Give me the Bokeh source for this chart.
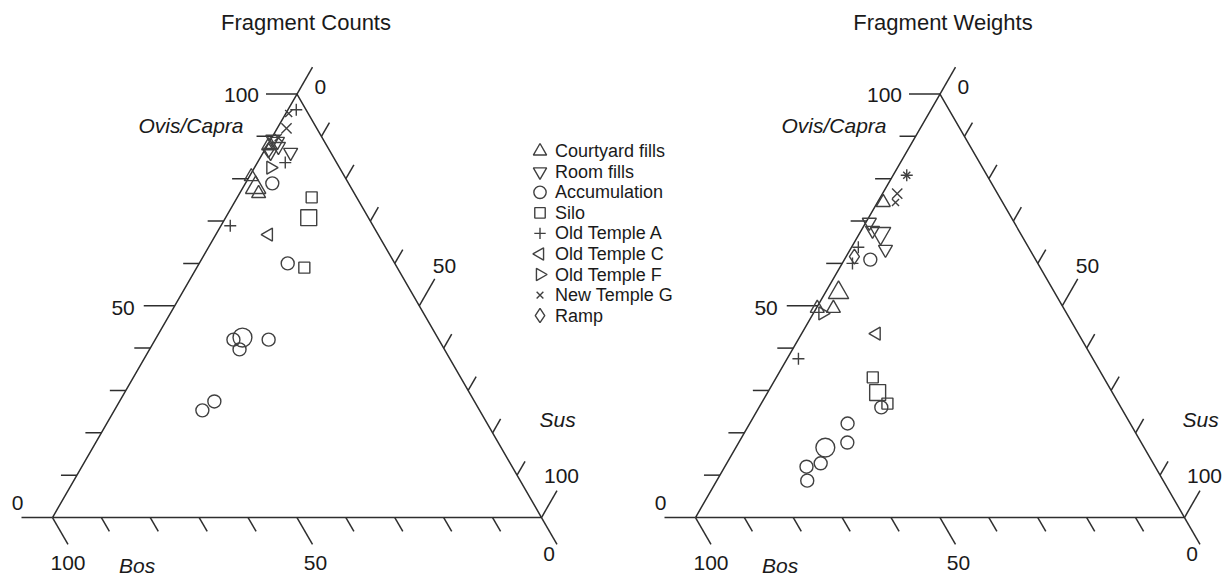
import numpy as np
from bokeh.plotting import figure
from bokeh.models import Range1d
from bokeh.core.properties import value
from bokeh.embed import file_html
from bokeh.resources import INLINE

# ---------------- data ----------------
categories = ["Courtyard fills", "Room fills", "Accumulation", "Silo", "Old Temple A",
              "Old Temple C", "Old Temple F", "New Temple G", "Ramp"]
titles = ["Fragment Counts", "Fragment Weights"]
axis_names = ["Ovis/Capra", "Sus", "Bos"]
tick_values = [0, 50, 100]

# Fragment Counts (percent Ovis/Capra, Sus, Bos)
cnt_group = ["Courtyard fills"] * 4 + ["Room fills"] * 5 + ["Accumulation"] * 8 + ["Silo"] * 3 + \
            ["Old Temple A"] * 3 + ["Old Temple C"] + ["Old Temple F"] + ["New Temple G"] * 3 + ["Ramp"]
cnt_ovis = [80.5, 77.9, 76.5, 87.8,
            89.3, 88.8, 87.6, 86.2, 86.2,
            78.9, 60.0, 42.0, 42.5, 39.7, 42.0, 27.4, 25.3,
            75.6, 70.8, 59.0,
            68.9, 83.8, 96.3,
            66.8,
            82.6,
            95.4, 91.9, 89.7,
            86.7]
cnt_sus = [0.4, 2.6, 3.9, 0.3,
           0.4, 1.6, 2.4, 1.5, 5.6,
           5.5, 18.1, 16.0, 17.6, 18.4, 23.2, 19.4, 18.0,
           15.2, 17.0, 22.0,
           1.9, 5.7, 1.7,
           10.8,
           3.3,
           0.6, 1.9, 1.3,
           0.8]
cnt_bos = [19.1, 19.5, 19.6, 11.9,
           10.3, 9.6, 10.0, 12.3, 8.2,
           15.6, 21.9, 42.0, 39.9, 41.9, 34.8, 53.2, 56.7,
           9.2, 12.2, 19.0,
           29.2, 10.5, 2.0,
           22.4,
           14.1,
           4.0, 6.2, 9.0,
           12.5]
cnt_large = [False, True, False, False,
             False, False, False, False, False,
             False, False, False, True, False, False, False, False,
             False, True, False,
             False, False, False,
             False,
             False,
             False, True, False,
             False]

# Fragment Weights (percent Ovis/Capra, Sus, Bos)
wt_group = ["Courtyard fills"] * 4 + ["Room fills"] * 4 + ["Accumulation"] * 8 + ["Silo"] * 3 + \
           ["Old Temple A"] * 4 + ["Old Temple C"] + ["Old Temple F"] + ["New Temple G"] * 3 + ["Ramp"]
wt_ovis = [74.4, 53.1, 49.4, 49.4,
           69.7, 67.8, 67.1, 63.3,
           60.9, 26.0, 22.2, 17.7, 16.5, 12.8, 12.0, 8.7,
           33.1, 29.5, 26.9,
           80.8, 63.8, 60.0, 37.5,
           43.4,
           48.2,
           80.8, 76.5, 74.4,
           61.6]
wt_sus = [1.2, 2.7, 3.5, 0.2,
          0.7, 2.3, 4.3, 7.2,
          5.3, 25.0, 20.0, 22.2, 18.3, 19.2, 16.7, 18.5,
          19.7, 22.5, 25.8,
          2.8, 1.4, 2.1, 2.3,
          15.3,
          1.9,
          2.8, 3.0, 3.7,
          1.7]
wt_bos = [24.4, 44.2, 47.1, 50.4,
          29.6, 29.9, 28.6, 29.5,
          33.8, 49.0, 57.8, 60.1, 65.2, 68.0, 71.3, 72.8,
          47.2, 48.0, 47.3,
          16.4, 34.8, 37.9, 60.2,
          41.3,
          49.9,
          16.4, 20.5, 21.9,
          36.7]
wt_large = [False, True, False, False,
            False, False, True, False,
            False, False, False, False, True, False, False, False,
            False, True, False,
            False, False, False, False,
            False,
            False,
            False, True, False,
            False]

# ---------------- styles ----------------
STYLE = {
    "Courtyard fills": ("triangle", 0.0, 14),
    "Room fills": ("inverted_triangle", 0.0, 14),
    "Accumulation": ("circle", 0.0, 13),
    "Silo": ("square", 0.0, 11),
    "Old Temple A": ("cross", 0.0, 12),
    "Old Temple C": ("triangle", np.pi / 2, 13),
    "Old Temple F": ("triangle", -np.pi / 2, 13),
    "New Temple G": ("x", 0.0, 10),
    "Ramp": ("diamond", 0.0, 15),
}
LINE = "#2e2e2e"
MARK = "#404040"
TXT = "#1a1a1a"
FONT = value("Liberation Sans")

PX = 4.89            # pixels per percent unit
W, H = 1223, 579
BLX, BLY = 52, 517   # page position of left triangle's lower-left corner
OFFSET = 643 / PX    # shift of the right triangle
x0 = -BLX / PX
y0 = -(H - BLY) / PX

p = figure(width=W, height=H, x_range=Range1d(x0, x0 + W / PX),
           y_range=Range1d(y0, y0 + H / PX), output_backend="svg",
           toolbar_location=None, min_border=0)
p.axis.visible = False
p.grid.visible = False
p.outline_line_color = None
p.background_fill_color = "white"
p.border_fill_color = "white"

S3 = np.sqrt(3) / 2


def tern(o, s, b, off):
    o = np.asarray(o, float); s = np.asarray(s, float); b = np.asarray(b, float)
    t = o + s + b
    o = o / t * 100; s = s / t * 100
    return off + s + o / 2, o * S3


def d(dx, dy):
    return dx / PX, -dy / PX


def page(X, Y):
    return (X - BLX) / PX, (BLY - Y) / PX


MAJ, MIN = 31 / PX, 16 / PX


def draw_triangle(off, title, group, ov, su, bo, large, title_dx):
    # outline
    p.line([off, off + 100, off + 50, off], [0, 0, 100 * S3, 0], line_color=LINE, line_width=1.5)
    xs, ys = [], []
    for v in range(0, 101, 10):
        L = MAJ if v % 50 == 0 else MIN
        # left axis (Ovis/Capra): horizontal ticks to the left
        bx, by = tern(v, 0, 100 - v, off)
        xs.append([bx, bx - L]); ys.append([by, by])
        # right axis (Sus): ticks parallel to left edge, upward
        bx, by = tern(100 - v, v, 0, off)
        xs.append([bx, bx + 0.5 * L]); ys.append([by, by + S3 * L])
        # bottom axis (Bos): ticks parallel to right edge, downward
        bx, by = tern(0, 100 - v, v, off)
        xs.append([bx, bx + 0.5 * L]); ys.append([by, by - S3 * L])
    p.multi_line(xs, ys, line_color=LINE, line_width=1.5)

    # tick labels
    lx, ly, lt, la = [], [], [], []

    def add(pt, dxy, txt, al):
        lx.append(pt[0] + dxy[0]); ly.append(pt[1] + dxy[1]); lt.append(txt); la.append(al)

    for v in tick_values:
        lt_end = (tern(v, 0, 100 - v, off)[0] - MAJ, tern(v, 0, 100 - v, off)[1])
        rx, ry = tern(100 - v, v, 0, off)
        r_end = (rx + 0.5 * MAJ, ry + S3 * MAJ)
        bx, by = tern(0, 100 - v, v, off)
        b_end = (bx + 0.5 * MAJ, by - S3 * MAJ)
        left_off = {100: (-7, 1, "right"), 50: (-9, 2, "right"), 0: (-4, -15, "center")}[v]
        add(lt_end, d(left_off[0], left_off[1]), str(v), left_off[2])
        right_off = {0: (2, 20), 50: (-2, -13), 100: (-13, -15)}[v]
        add(r_end, d(*right_off), str(v), "left")
        bot_off = {100: (0, 19), 50: (3, 19), 0: (-8, 10)}[v]
        add(b_end, d(*bot_off), str(v), "center")
    for al in ["left", "right", "center"]:
        idx = [i for i, a in enumerate(la) if a == al]
        p.text([lx[i] for i in idx], [ly[i] for i in idx], text=[lt[i] for i in idx],
               text_font=FONT, text_font_size="21px", text_align=al,
               text_baseline="middle", text_color=TXT)

    # axis names
    ax, ay = tern(100, 0, 0, off)
    o1 = d(-53.5, 31.5)
    p.text([ax + o1[0]], [ay + o1[1]], text=[axis_names[0]], text_font=FONT, text_font_size="21px",
           text_font_style="italic", text_align="right", text_baseline="middle", text_color=TXT)
    rx, ry = tern(0, 100, 0, off)
    o2 = d(-2, -98)
    p.text([rx + o2[0]], [ry + o2[1]], text=[axis_names[1]], text_font=FONT, text_font_size="21px",
           text_font_style="italic", text_align="left", text_baseline="middle", text_color=TXT)
    bx, by = tern(0, 0, 100, off)
    o3 = d(66.5, 48)
    p.text([bx + o3[0]], [by + o3[1]], text=[axis_names[2]], text_font=FONT, text_font_size="21px",
           text_font_style="italic", text_align="left", text_baseline="middle", text_color=TXT)
    # title
    ot = d(title_dx, -71.5)
    p.text([ax + ot[0]], [ay + ot[1]], text=[title], text_font=FONT, text_font_size="22px",
           text_align="center", text_baseline="middle", text_color=TXT)

    # points
    px_, py_ = tern(ov, su, bo, off)
    for cat in categories:
        mk, ang, sz = STYLE[cat]
        for big in (False, True):
            idx = [i for i, g in enumerate(group) if g == cat and large[i] == big]
            if not idx:
                continue
            p.scatter(px_[idx], py_[idx], marker=mk, angle=ang,
                      size=sz * (1.45 if big else 1.0), fill_color=None,
                      line_color=MARK, line_width=1.4)


draw_triangle(0.0, titles[0], cnt_group, cnt_ovis, cnt_sus, cnt_bos, cnt_large, 9)
draw_triangle(OFFSET, titles[1], wt_group, wt_ovis, wt_sus, wt_bos, wt_large, 3)

# legend (drawn from the category list)
for k, cat in enumerate(categories):
    mk, ang, sz = STYLE[cat]
    mx, my = page(539.5, 150.7 + k * 20.55)
    tx, ty = page(554.5, 150.7 + k * 20.55)
    p.scatter([mx], [my], marker=mk, angle=ang, size=sz * 0.95, fill_color=None,
              line_color=MARK, line_width=1.4)
    p.text([tx], [ty], text=[cat], text_font=FONT, text_font_size="18px",
           text_align="left", text_baseline="middle", text_color=TXT)

open("out.html", "w").write(file_html(p, INLINE))
